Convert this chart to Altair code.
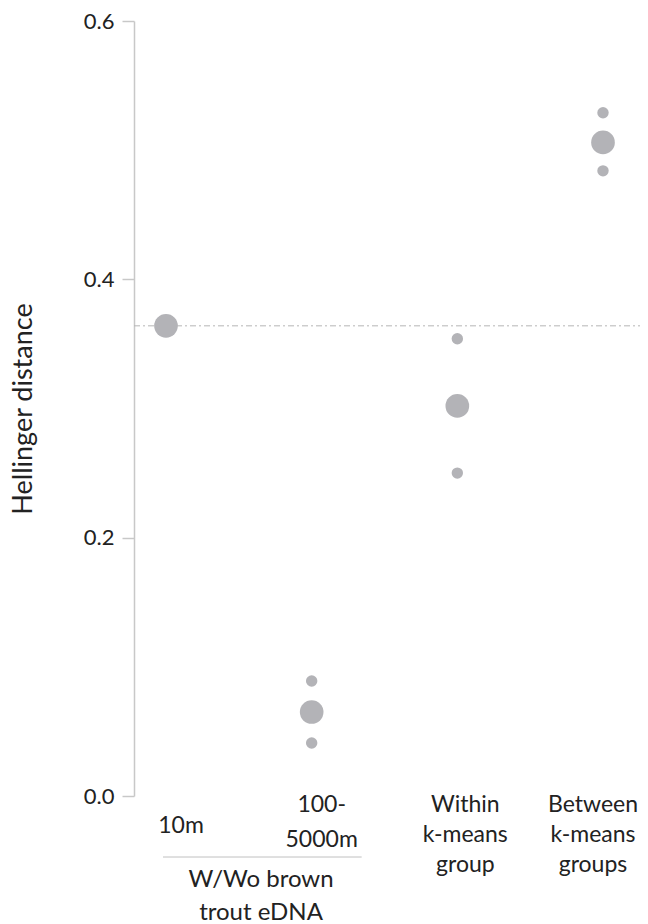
import altair as alt
import pandas as pd

# ---- data ----
groups = ["10m", "100-5000m", "Within", "Between"]
mean_vals = [0.364, 0.065, 0.302, 0.506]
ci_groups = ["100-5000m", "100-5000m", "Within", "Within", "Between", "Between"]
ci_vals = [0.089, 0.041, 0.354, 0.250, 0.529, 0.484]
ref_value = [0.364]
y_ticks = [0.0, 0.2, 0.4, 0.6]
label_text = ["10m", "100-\n5000m", "Within\nk-means\ngroup", "Between\nk-means\ngroups"]
bracket_groups = ["10m", "100-5000m"]
bracket_text = "W/Wo brown\ntrout eDNA"

FONT = "Lato"
TEXT_COLOR = "#222222"
POINT_COLOR = "#b3b3b7"
W, H = 506, 775

means = pd.DataFrame({"group": groups, "value": mean_vals})
cis = pd.DataFrame({"group": ci_groups, "value": ci_vals})
ref = pd.DataFrame({"value": ref_value})

xscale = alt.Scale(type="point", domain=groups, range=[32, 469], padding=0)
yscale = alt.Scale(domain=[0, 0.6], nice=False)

yaxis = alt.Axis(
    values=y_ticks, format=".1f", grid=False,
    tickSize=12, tickColor="#c8c8c8", tickWidth=1.5,
    domainColor="#c8c8c8", domainWidth=1.5,
    labelFont=FONT, labelFontSize=22, labelColor=TEXT_COLOR, labelPadding=8,
    title="Hellinger distance", titleFont=FONT, titleFontSize=27,
    titleFontWeight="normal", titleColor=TEXT_COLOR,
    titleX=-111, titleBaseline="middle",
)

ref_line = alt.Chart(ref).mark_rule(
    color="#b5b5b5", strokeWidth=1, strokeDash=[6, 3, 2, 3]
).encode(
    y=alt.Y("value:Q", scale=yscale, axis=yaxis),
    x=alt.value(0), x2=alt.value(W),
)

ci_pts = alt.Chart(cis).mark_circle(size=130, color=POINT_COLOR, opacity=1).encode(
    x=alt.X("group:N", scale=xscale, axis=None),
    y=alt.Y("value:Q", scale=yscale),
)

mean_pts = alt.Chart(means).mark_circle(size=560, color=POINT_COLOR, opacity=1).encode(
    x=alt.X("group:N", scale=xscale, axis=None),
    y=alt.Y("value:Q", scale=yscale),
)

# category labels (x from the same scale)
label_specs = [
    # (index, dx, y of first baseline, line height)
    (0, 15, 812, 30),
    (1, 10, 791, 35),
    (2, 8, 791, 30),
    (3, -10, 791, 30),
]
label_layers = []
for i, dx, y0, lh in label_specs:
    df = pd.DataFrame({"group": [groups[i]], "text": [label_text[i]]})
    label_layers.append(
        alt.Chart(df).mark_text(
            font=FONT, fontSize=23, color=TEXT_COLOR, dx=dx,
            baseline="alphabetic", align="center", lineBreak="\n", lineHeight=lh,
        ).encode(
            x=alt.X("group:N", scale=xscale, axis=None),
            y=alt.value(y0),
            text="text:N",
        )
    )

bracket_df = pd.DataFrame({"g1": [bracket_groups[0]], "g2": [bracket_groups[1]],
                           "text": [bracket_text]})
bracket = alt.Chart(bracket_df).mark_rule(
    color="#c0c0c0", strokeWidth=1, xOffset=-3, x2Offset=50
).encode(
    x=alt.X("g1:N", scale=xscale, axis=None),
    x2="g2:N",
    y=alt.value(836),
)
bracket_label = alt.Chart(bracket_df).mark_text(
    font=FONT, fontSize=24, color=TEXT_COLOR,
    baseline="alphabetic", align="center", lineBreak="\n", lineHeight=33,
    dx=95,
).encode(
    x=alt.X("g1:N", scale=xscale, axis=None),
    y=alt.value(866),
    text="text:N",
)

chart = alt.layer(
    ref_line, ci_pts, mean_pts, *label_layers, bracket, bracket_label
).properties(
    width=W, height=H,
    background="white",
    autosize=alt.AutoSizeParams(type="none"),
    padding={"left": 134, "top": 21, "right": 8, "bottom": 128},
).configure_view(strokeWidth=0, stroke=None)

chart.save("out.html", embed_options={"renderer": "svg", "actions": False})
